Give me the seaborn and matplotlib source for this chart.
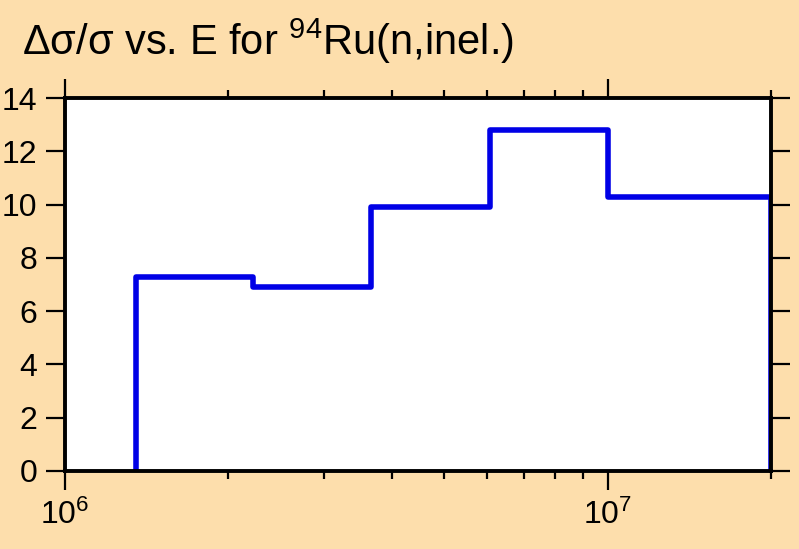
import numpy as np
import pandas as pd
import seaborn as sns
import matplotlib.pyplot as plt
from matplotlib.ticker import LogLocator

# Bin-Grenzen (eV) und relative Unsicherheit (%) pro Bin
energie_grenzen = [1.35e6, 2.22e6, 3.67e6, 6.08e6, 1.0e7, 2.0e7]
unsicherheit = [7.3, 6.9, 9.9, 12.8, 10.3]
y_ticks = [0, 2, 4, 6, 8, 10, 12, 14]

sns.set_theme(style="ticks")
plt.rcParams["font.family"] = ["Liberation Sans", "DejaVu Sans"]
plt.rcParams["mathtext.fontset"] = "custom"
plt.rcParams["mathtext.rm"] = "Liberation Sans"
plt.rcParams["mathtext.it"] = "Liberation Sans"
plt.rcParams["mathtext.bf"] = "Liberation Sans:bold"
plt.rcParams["text.color"] = "black"

# Stufenlinie: bei 0 beginnen und enden
x = [energie_grenzen[0]] + energie_grenzen[:-1] + [energie_grenzen[-1]]
y = [0] + unsicherheit + [0]
df = pd.DataFrame({"E": x, "rel": y})

bg = "#fddeac"
fig = plt.figure(figsize=(7.99, 5.49), dpi=100, facecolor=bg)
ax = fig.add_axes([65 / 799, 1 - 471 / 549, 706 / 799, 373 / 549])
ax.set_facecolor("white")

sns.lineplot(data=df, x="E", y="rel", ax=ax, estimator=None, sort=False,
             drawstyle="steps-post", color="#0000e6", linewidth=4)

ax.set_xscale("log")
ax.set_xlim(1e6, 2e7)
ax.set_ylim(0, 14)
ax.set_yticks(y_ticks)
ax.xaxis.set_major_locator(LogLocator(base=10, numticks=10))
ax.xaxis.set_minor_locator(LogLocator(base=10, subs=np.arange(2, 10), numticks=20))
ax.set_xlabel("")
ax.set_ylabel("")

for s in ax.spines.values():
    s.set_color("black")
    s.set_linewidth(2.8)

ax.tick_params(axis="both", which="major", direction="out", length=14, width=1.6,
               colors="black", labelcolor="black", labelsize=23,
               left=True, bottom=True, top=True, right=True, pad=6)
ax.tick_params(axis="x", which="minor", direction="out", length=6, width=1.6,
               colors="black", top=True, bottom=True)
ax.tick_params(axis="x", which="major", pad=7)

fig.text(22 / 799, 1 - 55 / 549, r"Δσ/σ vs. E for $^{94}$Ru(n,inel.)",
         fontsize=30, color="black", ha="left", va="baseline")

plt.savefig("out.png", dpi=100, facecolor=bg)
